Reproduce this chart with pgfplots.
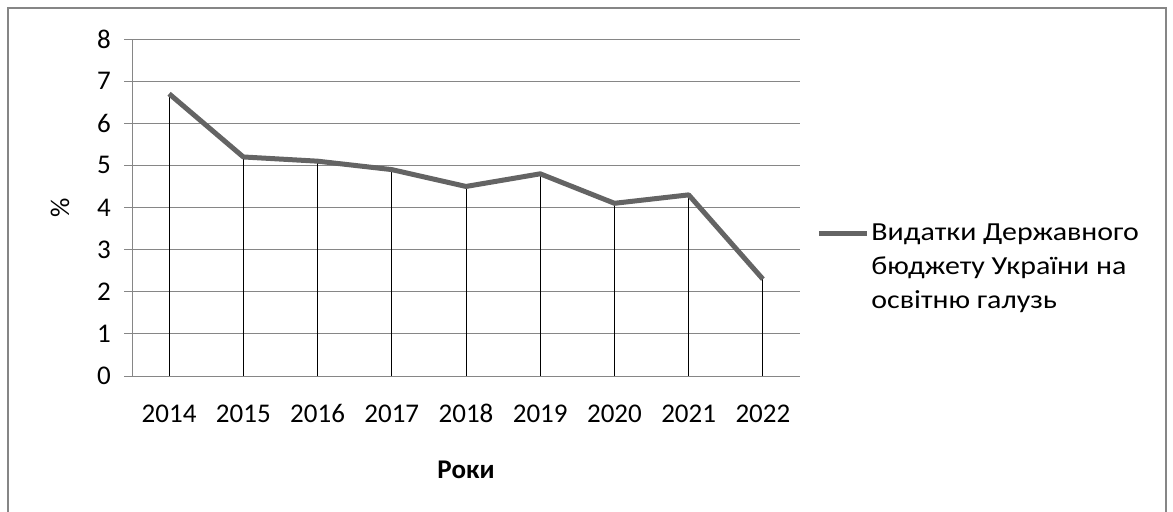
\documentclass[border=0pt]{standalone}
\usepackage{fontspec}
\setmainfont{Carlito}
\newfontfamily\legendfont[FakeStretch=1.15]{Carlito}
\usepackage{pgfplots}
\pgfplotsset{compat=1.18}
\definecolor{gridgray}{RGB}{134,134,134}
\definecolor{linegray}{RGB}{100,100,100}
\definecolor{framegray}{RGB}{134,134,134}
\begin{document}
\begin{tikzpicture}[x=0.5pt,y=0.5pt]
\useasboundingbox (0,0) rectangle (1173,511);
% chart frame
\draw[framegray, line width=1.2pt] (8,-5) -- (8,503) -- (1166,503) -- (1166,-5);
\begin{axis}[
  at={(66pt,67.5pt)}, anchor=south west,
  width=334pt, height=168.5pt, scale only axis,
  xmin=-0.5, xmax=8.5, ymin=0, ymax=8,
  xtick={0,...,8}, xticklabels={2014,2015,2016,2017,2018,2019,2020,2021,2022},
  ytick={0,...,8},
  axis x line*=bottom, axis y line*=left,
  axis line style={gridgray, line width=0.5pt},
  ymajorgrids, grid style={gridgray, line width=0.5pt},
  xtick style={draw=none},
  ytick style={gridgray, line width=0.5pt},
  tick align=outside, major tick length=4pt,
  font=\fontsize{13.5}{17}\selectfont,
  /pgf/number format/assume math mode=true,
  xticklabel style={text height=0.65em, text depth=0pt, yshift=-9pt},
  yticklabel style={xshift=-3pt},
  xlabel={Роки},
  xlabel style={font=\fontsize{13.5}{17}\selectfont\bfseries, at={(axis description cs:0.5,0)}, anchor=center, yshift=-47pt},
  ylabel={\%},
  ylabel style={at={(axis description cs:0,0.5)}, anchor=center, yshift=36pt},
  legend style={draw=none, fill=none, at={(1.024,0.322)}, anchor=west, inner sep=0pt,
    column sep=0pt, nodes={align=left, inner sep=1pt, anchor=base west,
    font=\legendfont\fontsize{13}{17}\selectfont}},
  legend image code/.code={\draw[#1] (0pt,34pt+0.33em) -- (24pt,34pt+0.33em);},
]
% drop lines from each point to the x axis
\addplot[ycomb, black, line width=0.5pt, forget plot] coordinates {
  (0,6.7) (1,5.2) (2,5.1) (3,4.9) (4,4.5) (5,4.8) (6,4.1) (7,4.3) (8,2.3)};
\addplot[linegray, line width=2.5pt, line join=round] coordinates {
  (0,6.7) (1,5.2) (2,5.1) (3,4.9) (4,4.5) (5,4.8) (6,4.1) (7,4.3) (8,2.3)};
\addlegendentry{Видатки Державного\\бюджету України на\\освітню галузь}
\end{axis}
\end{tikzpicture}
\end{document}
